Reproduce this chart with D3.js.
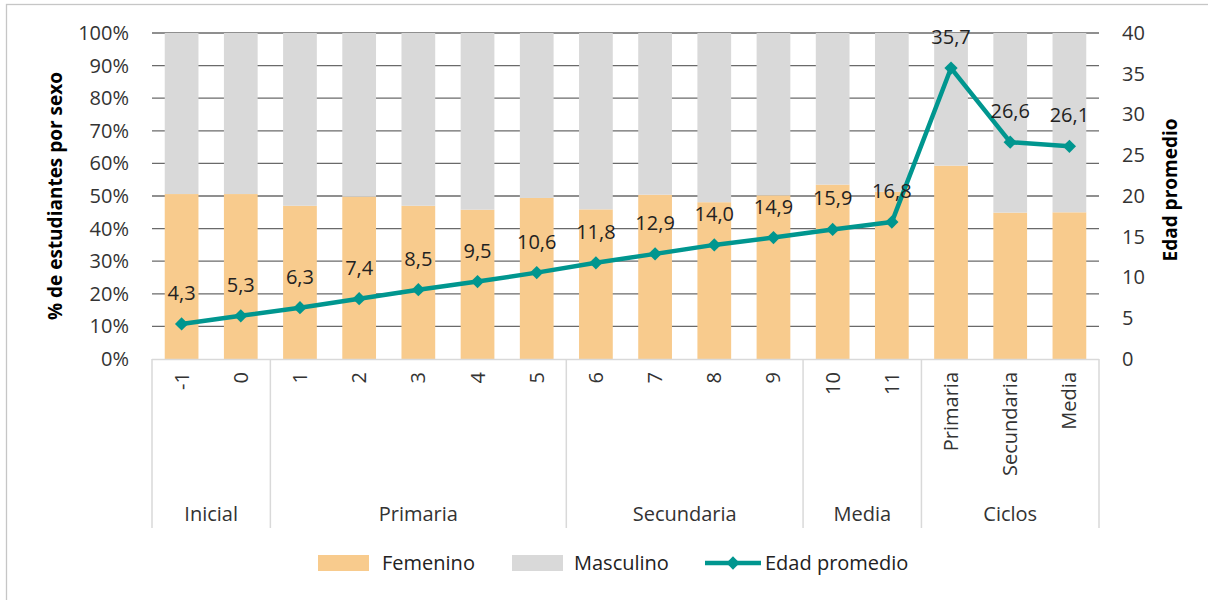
<!DOCTYPE html>
<html>
<head>
<meta charset="utf-8">
<script src="https://cdn.jsdelivr.net/npm/d3@7"></script>
<style>
  html, body { margin: 0; padding: 0; background: #fff; }
  svg { display: block; font-family: "Open Sans", sans-serif; }
</style>
</head>
<body>
<svg id="chart" width="1208" height="600"></svg>
<script>
// ---- Data ----
const categories = ["-1","0","1","2","3","4","5","6","7","8","9","10","11","Primaria","Secundaria","Media"];
const groupNames = ["Inicial","Primaria","Secundaria","Media","Ciclos"];
const groupSizes = [2,5,4,2,3];
const femenino  = [50.6,50.6,47.0,49.8,47.0,45.8,49.4,45.9,50.4,48.1,50.2,53.5,51.3,59.3,44.9,45.0];
const masculino = [49.4,49.4,53.0,50.2,53.0,54.2,50.6,54.1,49.6,51.9,49.8,46.5,48.7,40.7,55.1,55.0];
const edad      = [4.3,5.3,6.3,7.4,8.5,9.5,10.6,11.8,12.9,14.0,14.9,15.9,16.8,35.7,26.6,26.1];
const leftTicks  = [0,10,20,30,40,50,60,70,80,90,100];
const rightTicks = [0,5,10,15,20,25,30,35,40];
const seriesNames = ["Femenino","Masculino","Edad promedio"];

// ---- Layout ----
const svg = d3.select("#chart");
const plot = {left: 152, right: 1099, top: 33, bottom: 359};
const colF = "#F8CB8D", colM = "#D9D9D9", colLine = "#00968F";
const fontSize = 20;
const textCol = "#333333";

svg.append("rect").attr("x",6.5).attr("y",4.5).attr("width",1220).attr("height",620)
  .attr("fill","#fff").attr("stroke","#c6c6c6").attr("stroke-width",1.3);

const x = d3.scaleBand().domain(categories).range([plot.left, plot.right]).padding(0);
const yL = d3.scaleLinear().domain([0,100]).range([plot.bottom, plot.top]);
const yR = d3.scaleLinear().domain([0,40]).range([plot.bottom, plot.top]);
const barW = x.bandwidth() * 0.57;

// gridlines
svg.append("g").selectAll("line").data(leftTicks.filter(d => d > 0)).join("line")
  .attr("x1", plot.left).attr("x2", plot.right)
  .attr("y1", d => yL(d)).attr("y2", d => yL(d))
  .attr("stroke", "#6a6a6a").attr("stroke-width", 1.3);

// stacked bars
const stackData = categories.map((c,i) => ({cat:c, Femenino: femenino[i], Masculino: masculino[i]}));
const stack = d3.stack().keys(["Femenino","Masculino"])(stackData);
const colors = {Femenino: colF, Masculino: colM};
svg.append("g").selectAll("g").data(stack).join("g")
  .attr("fill", d => colors[d.key])
  .selectAll("rect").data(d => d).join("rect")
  .attr("x", d => x(d.data.cat) + (x.bandwidth() - barW)/2)
  .attr("width", barW)
  .attr("y", d => yL(d[1]))
  .attr("height", d => yL(d[0]) - yL(d[1]));

// left axis
const axL = svg.append("g").attr("transform", `translate(${plot.left},0)`)
  .call(d3.axisLeft(yL).tickValues(leftTicks).tickFormat(d => d + "%").tickSize(0).tickPadding(23));
axL.select(".domain").remove();
axL.selectAll("text").attr("font-size", fontSize).attr("fill", textCol).attr("font-family","Open Sans");

// right axis
const axR = svg.append("g").attr("transform", `translate(${plot.right},0)`)
  .call(d3.axisRight(yR).tickValues(rightTicks).tickSize(0).tickPadding(23));
axR.select(".domain").remove();
axR.selectAll("text").attr("font-size", fontSize).attr("fill", textCol).attr("font-family","Open Sans");

// category axis line and separators
const sepColor = "#d9d9d9";
svg.append("line").attr("x1", plot.left).attr("x2", plot.right)
  .attr("y1", plot.bottom + 0.5).attr("y2", plot.bottom + 0.5)
  .attr("stroke", sepColor).attr("stroke-width", 1.5);

let idx = 0;
const bounds = [0];
groupSizes.forEach(n => { idx += n; bounds.push(idx); });
const boundX = bounds.map(b => b < categories.length ? x(categories[b]) : plot.right);
svg.append("g").selectAll("line").data(boundX).join("line")
  .attr("x1", d => d).attr("x2", d => d)
  .attr("y1", plot.bottom).attr("y2", 528)
  .attr("stroke", sepColor).attr("stroke-width", 1.5);

// category labels (rotated)
svg.append("g").selectAll("text").data(categories).join("text")
  .attr("transform", d => `translate(${x(d) + x.bandwidth()/2 + 7},372) rotate(-90)`)
  .attr("text-anchor", "end")
  .attr("font-size", fontSize).attr("fill", textCol)
  .text(d => d);

// group labels
svg.append("g").selectAll("text").data(groupNames).join("text")
  .attr("x", (d,i) => (boundX[i] + boundX[i+1]) / 2)
  .attr("y", 521)
  .attr("text-anchor", "middle")
  .attr("font-size", fontSize).attr("fill", textCol)
  .text(d => d);

// line series
const pts = categories.map((c,i) => [x(c) + x.bandwidth()/2, yR(edad[i])]);
svg.append("path").datum(pts)
  .attr("d", d3.line())
  .attr("fill", "none").attr("stroke", colLine).attr("stroke-width", 4.5)
  .attr("stroke-linejoin", "round");
const diamond = d3.symbol().type(d3.symbolSquare).size(88);
svg.append("g").selectAll("path").data(pts).join("path")
  .attr("transform", d => `translate(${d[0]},${d[1]}) rotate(45)`)
  .attr("d", diamond).attr("fill", colLine);

// data labels
svg.append("g").selectAll("text").data(edad).join("text")
  .attr("x", (d,i) => pts[i][0])
  .attr("y", (d,i) => pts[i][1] - 24)
  .attr("text-anchor", "middle")
  .attr("font-size", fontSize).attr("fill", "#222")
  .text(d => d3.format(".1f")(d).replace(".", ","));

// axis titles
svg.append("text")
  .attr("transform", `translate(62,${(plot.top+plot.bottom)/2}) rotate(-90)`)
  .attr("text-anchor", "middle").attr("font-size", 19).attr("font-weight", "bold")
  .attr("fill", "#000").text("% de estudiantes por sexo");
svg.append("text")
  .attr("transform", `translate(1177,190) rotate(-90)`)
  .attr("text-anchor", "middle").attr("font-size", 19).attr("font-weight", "bold")
  .attr("fill", "#000").text("Edad promedio");

// legend
const lg = svg.append("g");
const legendItems = [
  {name: seriesNames[0], type: "rect", color: colF, sx: 318, tx: 382},
  {name: seriesNames[1], type: "rect", color: colM, sx: 512, tx: 574},
  {name: seriesNames[2], type: "line", color: colLine, sx: 705, tx: 765}
];
const ly = 563;
legendItems.forEach(it => {
  if (it.type === "rect") {
    lg.append("rect").attr("x", it.sx).attr("y", ly - 8).attr("width", 51).attr("height", 16).attr("fill", it.color);
  } else {
    lg.append("line").attr("x1", it.sx).attr("x2", it.sx + 56).attr("y1", ly).attr("y2", ly)
      .attr("stroke", it.color).attr("stroke-width", 4.5);
    lg.append("path").attr("transform", `translate(${it.sx + 28},${ly}) rotate(45)`)
      .attr("d", diamond).attr("fill", it.color);
  }
  lg.append("text").attr("x", it.tx).attr("y", ly).attr("dy", "0.35em")
    .attr("font-size", fontSize).attr("fill", "#222").text(it.name);
});
</script>
</body>
</html>
